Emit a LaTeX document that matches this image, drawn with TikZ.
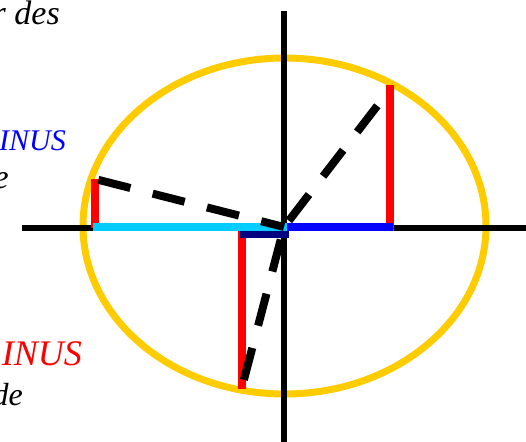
\documentclass[tikz,border=0pt]{standalone}
\usepackage{fontspec}
\setmainfont{Liberation Serif}
\definecolor{ellyellow}{RGB}{255,204,0}
\definecolor{cosblue}{RGB}{0,0,255}
\definecolor{cyanline}{RGB}{0,204,255}
\definecolor{navyline}{RGB}{0,0,128}
\definecolor{sinred}{RGB}{255,0,0}
\begin{document}
\begin{tikzpicture}[x=1pt,y=-1pt,
  axis/.style={line width=6.5pt,black},
  seg/.style={line width=8pt},
  radius line/.style={line width=8pt,black,dash pattern=on 33pt off 23pt},
  lbl/.style={inner sep=0pt,anchor=base east,font=\fontsize{#1}{#1}\selectfont\itshape}]
\useasboundingbox (0,0) rectangle (526,441);
% coordinates
\coordinate (O) at (284,227);
\coordinate (C) at (284.5,226);
\coordinate (Vt) at (284,11);
\coordinate (Vb) at (284,450);
\coordinate (Hl) at (22,228);
\coordinate (Hr) at (535,228);
\coordinate (P1) at (391,88);
\coordinate (P1t) at (390,85);
\coordinate (P1b) at (390,231);
\coordinate (P2) at (95,179);
\coordinate (P2b) at (95,228);
\coordinate (P3) at (241.5,389);
\coordinate (P3b) at (241.5,228);
\coordinate (Cyl) at (93,227);
\coordinate (Cyr) at (287,227);
\coordinate (Blr) at (393,227);
\coordinate (Nvl) at (240,234);
\coordinate (Nvr) at (289,234);
% ellipse
\draw[line width=7pt,ellyellow] (C) ellipse [x radius=201.5,y radius=168];
% axes
\draw[axis] (Vt) -- (Vb);
\draw[axis] (Hl) -- (Hr);
% sine segments
\draw[seg,sinred] (P1t) -- (P1b);
\draw[seg,sinred] (P2) -- (P2b);
\draw[seg,sinred] (P3b) -- (P3);
% cosine segments
\draw[seg,cyanline] (Cyl) -- (Cyr);
\draw[seg,cosblue] (Cyr) -- (Blr);
\draw[line width=7pt,navyline] (Nvl) -- (Nvr);
% radius lines
\draw[radius line,dash phase=48pt] (O) -- (P1);
\draw[radius line,dash phase=52.5pt] (P2) -- (O);
\draw[radius line,dash phase=43pt] (O) -- (P3);
% texts
\node[lbl=34] (t1) at (60,25) {r des};
\node[lbl=30,text=cosblue] (t2) at (66,150) {INUS};
\node[lbl=34] (t3) at (9,188) {e};
\node[lbl=36,text=sinred] (t4) at (82,365) {INUS};
\node[lbl=32] (t5) at (23,405) {de};
\end{tikzpicture}
\end{document}
